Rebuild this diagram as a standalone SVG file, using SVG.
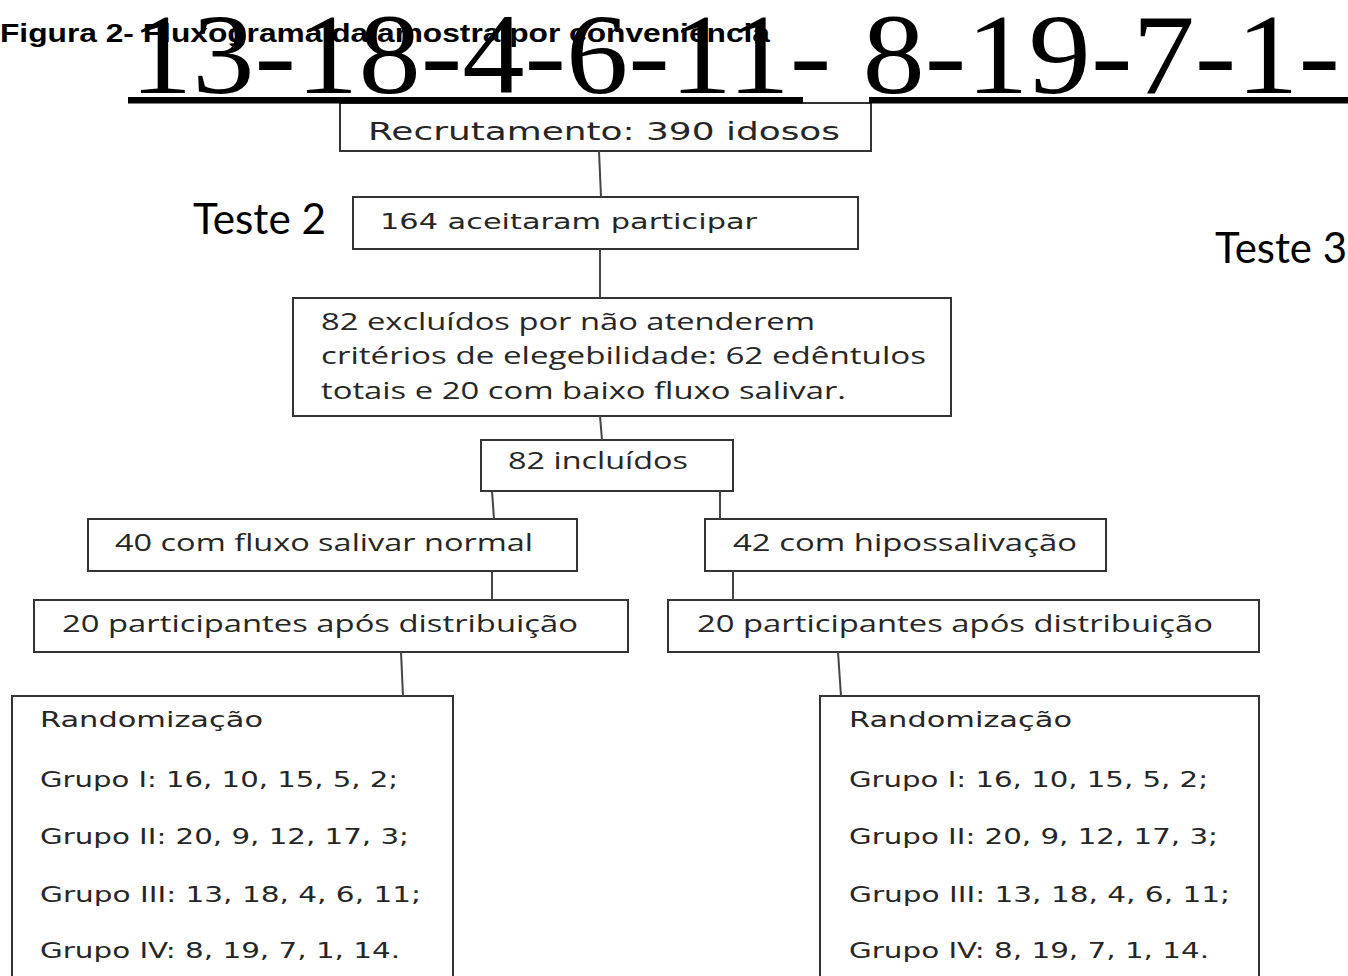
<svg xmlns="http://www.w3.org/2000/svg" width="1348" height="976" viewBox="0 0 1348 976">
<style>
.box{fill:none;stroke:#333;stroke-width:2}
.con line{stroke:#444;stroke-width:2}
.v{font-family:"DejaVu Sans",Verdana,sans-serif;fill:#262626}
.c{font-family:"Open Sans","Liberation Sans",sans-serif;fill:#262626}
.lbl{font-family:Lato,"Open Sans",sans-serif;fill:#000;font-size:42px}
</style>
<rect width="1348" height="976" fill="#fff"/>
<g id="n-recrut"><rect class="box" x="340" y="103" width="531" height="48"/><text class="v" x="368" y="140" font-size="25" textLength="472" lengthAdjust="spacingAndGlyphs">Recrutamento: 390 idosos</text></g>
<g id="n-aceit"><rect class="box" x="353" y="197" width="505" height="52"/><text class="v" x="380" y="229" font-size="22" textLength="377" lengthAdjust="spacingAndGlyphs">164 aceitaram participar</text></g>
<g id="n-excl"><rect class="box" x="293" y="298" width="658" height="118"/>
<text class="c" x="321" y="330" font-size="24" textLength="494" lengthAdjust="spacingAndGlyphs">82 excluídos por não atenderem</text>
<text class="c" x="321" y="364" font-size="24" textLength="605" lengthAdjust="spacingAndGlyphs">critérios de elegebilidade: 62 edêntulos</text>
<text class="c" x="321" y="399" font-size="24" textLength="525" lengthAdjust="spacingAndGlyphs">totais e 20 com baixo fluxo salivar.</text></g>
<g id="n-incl"><rect class="box" x="481" y="440" width="252" height="51"/><text class="c" x="508" y="469" font-size="24" textLength="180" lengthAdjust="spacingAndGlyphs">82 incluídos</text></g>
<g id="n-normal"><rect class="box" x="88" y="519" width="489" height="52"/><text class="c" x="115" y="551" font-size="24" textLength="418" lengthAdjust="spacingAndGlyphs">40 com fluxo salivar normal</text></g>
<g id="n-hipo"><rect class="box" x="705" y="519" width="401" height="52"/><text class="c" x="733" y="551" font-size="24" textLength="344" lengthAdjust="spacingAndGlyphs">42 com hipossalivação</text></g>
<g id="n-part-l"><rect class="box" x="34" y="600" width="594" height="52"/><text class="c" x="62" y="632" font-size="24" textLength="516" lengthAdjust="spacingAndGlyphs">20 participantes após distribuição</text></g>
<g id="n-part-r"><rect class="box" x="668" y="600" width="591" height="52"/><text class="c" x="697" y="632" font-size="24" textLength="516" lengthAdjust="spacingAndGlyphs">20 participantes após distribuição</text></g>
<g id="n-rand-l"><rect class="box" x="12" y="696" width="441" height="320"/>
<text class="v" x="40" y="727" font-size="21" textLength="223" lengthAdjust="spacingAndGlyphs">Randomização</text>
<text class="v" x="40" y="787" font-size="21" textLength="358" lengthAdjust="spacingAndGlyphs">Grupo I: 16, 10, 15, 5, 2;</text>
<text class="v" x="40" y="844" font-size="21" textLength="369" lengthAdjust="spacingAndGlyphs">Grupo II: 20, 9, 12, 17, 3;</text>
<text class="v" x="40" y="902" font-size="21" textLength="381" lengthAdjust="spacingAndGlyphs">Grupo III: 13, 18, 4, 6, 11;</text>
<text class="v" x="40" y="958" font-size="21" textLength="360" lengthAdjust="spacingAndGlyphs">Grupo IV: 8, 19, 7, 1, 14.</text></g>
<g id="n-rand-r"><rect class="box" x="820" y="696" width="439" height="320"/>
<text class="v" x="849" y="727" font-size="21" textLength="223" lengthAdjust="spacingAndGlyphs">Randomização</text>
<text class="v" x="849" y="787" font-size="21" textLength="359" lengthAdjust="spacingAndGlyphs">Grupo I: 16, 10, 15, 5, 2;</text>
<text class="v" x="849" y="844" font-size="21" textLength="369" lengthAdjust="spacingAndGlyphs">Grupo II: 20, 9, 12, 17, 3;</text>
<text class="v" x="849" y="902" font-size="21" textLength="381" lengthAdjust="spacingAndGlyphs">Grupo III: 13, 18, 4, 6, 11;</text>
<text class="v" x="849" y="958" font-size="21" textLength="360" lengthAdjust="spacingAndGlyphs">Grupo IV: 8, 19, 7, 1, 14.</text></g>
<g id="connectors" class="con">
<line x1="599" y1="151" x2="601" y2="197"/>
<line x1="600" y1="249" x2="600" y2="298"/>
<line x1="600" y1="416" x2="602" y2="440"/>
<line x1="492" y1="491" x2="494" y2="519"/>
<line x1="720" y1="491" x2="720" y2="519"/>
<line x1="492" y1="571" x2="492" y2="600"/>
<line x1="733" y1="571" x2="733" y2="600"/>
<line x1="401" y1="652" x2="403" y2="696"/>
<line x1="838" y1="652" x2="841" y2="696"/>
</g>
<g id="labels">
<text class="lbl" x="193" y="234" textLength="133" lengthAdjust="spacingAndGlyphs">Teste 2</text>
<text class="lbl" x="1215" y="263" textLength="132" lengthAdjust="spacingAndGlyphs">Teste 3</text>
</g>
<g id="title">
<text x="0" y="42" font-family="'Liberation Sans',Arial,sans-serif" font-weight="bold" font-size="25" textLength="770" lengthAdjust="spacingAndGlyphs" fill="#000">Figura 2- Fluxograma da amostra por conveniência</text>
<text x="130" y="93" font-family="'Liberation Serif','Times New Roman',serif" font-size="114" textLength="1210" lengthAdjust="spacingAndGlyphs" fill="#000">13-18-4-6-11- 8-19-7-1-</text>
<rect x="128" y="97" width="675" height="6.5" fill="#000"/>
<rect x="869" y="97" width="479" height="6.5" fill="#000"/>
</g>
</svg>
